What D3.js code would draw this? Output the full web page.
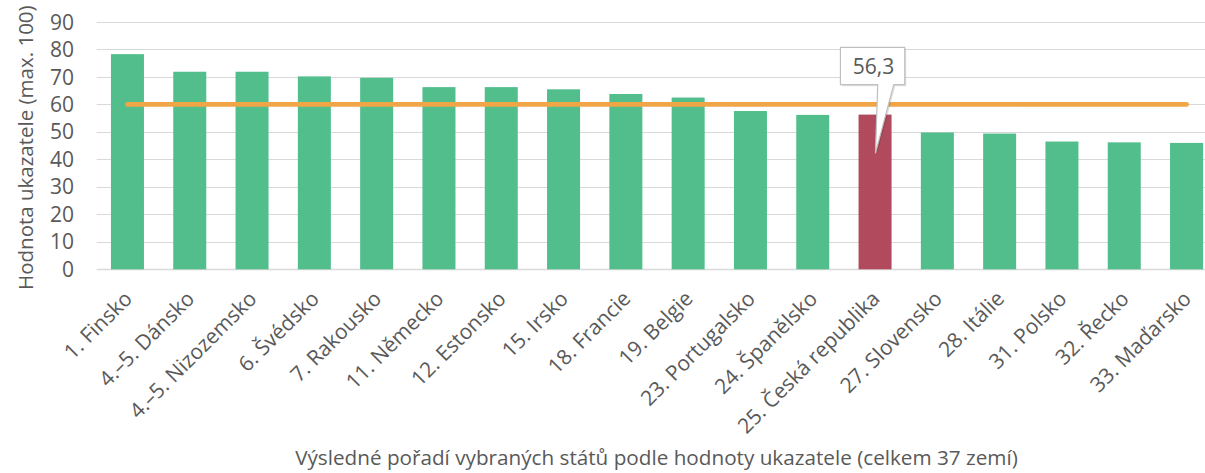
<!DOCTYPE html>
<html>
<head>
<meta charset="utf-8">
<script src="https://cdn.jsdelivr.net/npm/d3@7"></script>
<style>
    body { margin: 0; background: #fff; }
    text { font-family: "Open Sans", sans-serif; fill: #595959; }
</style>
</head>
<body>
<svg id="chart"></svg>
<script>
// data
const categories = ["1. Finsko", "4.–5. Dánsko", "4.–5. Nizozemsko", "6. Švédsko", "7. Rakousko",
    "11. Německo", "12. Estonsko", "15. Irsko", "18. Francie", "19. Belgie", "23. Portugalsko",
    "24. Španělsko", "25. Česká republika", "27. Slovensko", "28. Itálie", "31. Polsko",
    "32. Řecko", "33. Maďarsko"];
const values = [78.3, 71.9, 71.9, 70.2, 69.7, 66.3, 66.3, 65.5, 63.8, 62.5, 57.6, 56.2, 56.3,
    49.8, 49.4, 46.5, 46.2, 46.0];
const referenceValue = 60;
const highlighted = "25. Česká republika";
const calloutText = "56,3";
const yTicks = [0, 10, 20, 30, 40, 50, 60, 70, 80, 90];

const width = 1205, height = 473;

const svg = d3.select("#chart")
    .attr("width", width)
    .attr("height", height);

// scales (plot runs past the right edge, as in the original)
const x = d3.scaleBand()
    .domain(categories)
    .range([96.3, 1217.7])
    .paddingInner(0.47)
    .paddingOuter(0.235);
const y = d3.scaleLinear()
    .domain([0, 90])
    .range([269.3, 22]);

// gridlines
svg.append("g")
    .selectAll("line")
    .data(yTicks)
    .enter()
    .append("line")
    .attr("x1", 96.7)
    .attr("x2", width)
    .attr("y1", d => Math.round(y(d)) + 0.5)
    .attr("y2", d => Math.round(y(d)) + 0.5)
    .style("stroke", "#D9D9D9")
    .style("stroke-width", d => d === 0 ? 1.5 : 1.2);

// y tick labels
svg.append("g")
    .selectAll("text")
    .data(yTicks)
    .enter()
    .append("text")
    .attr("x", 74)
    .attr("y", d => y(d))
    .attr("dy", "0.36em")
    .attr("text-anchor", "end")
    .style("font-size", "21px")
    .text(d => d);

// bars
svg.append("g")
    .selectAll("rect")
    .data(categories)
    .enter()
    .append("rect")
    .attr("x", d => x(d))
    .attr("width", x.bandwidth())
    .attr("y", (d, i) => y(values[i]))
    .attr("height", (d, i) => y(0) - y(values[i]))
    .style("fill", d => d === highlighted ? "#B04A5C" : "#52BE8C");

// reference line
const refLine = d3.line()
    .x(d => x(d) + x.bandwidth() / 2)
    .y(() => y(referenceValue));

svg.append("path")
    .datum([categories[0], categories[categories.length - 1]])
    .attr("d", refLine)
    .style("fill", "none")
    .style("stroke", "#F0A646")
    .style("stroke-width", 4.8)
    .style("stroke-linecap", "round");

// callout for the highlighted bar
const cx = x(highlighted) + x.bandwidth() / 2;
const boxL = cx - 34.6, boxR = cx + 29.7;
const boxT = y(80.8), boxB = y(67.2);
const calloutPath = d3.path();
calloutPath.moveTo(boxL, boxT);
calloutPath.lineTo(boxR, boxT);
calloutPath.lineTo(boxR, boxB);
calloutPath.lineTo(cx + 18.7, boxB);
calloutPath.lineTo(cx + 0.4, y(42.2));
calloutPath.lineTo(cx + 2.7, boxB);
calloutPath.lineTo(boxL, boxB);
calloutPath.closePath();

svg.append("path")
    .attr("d", calloutPath.toString())
    .attr("transform", "translate(1.5,1.5)")
    .style("fill", "#000")
    .style("opacity", 0.12);
svg.append("path")
    .attr("d", calloutPath.toString())
    .style("fill", "#fff")
    .style("stroke", "#BFBFBF")
    .style("stroke-width", 1.2);
svg.append("text")
    .attr("x", (boxL + boxR) / 2 + 1)
    .attr("y", (boxT + boxB) / 2)
    .attr("dy", "0.36em")
    .attr("text-anchor", "middle")
    .style("font-size", "21px")
    .text(calloutText);

// x tick labels, rotated
svg.append("g")
    .selectAll("text")
    .data(categories)
    .enter()
    .append("text")
    .attr("transform", d => `translate(${x(d) + x.bandwidth() / 2 + 6}, 300) rotate(-45)`)
    .attr("text-anchor", "end")
    .style("font-size", "21px")
    .text(d => d);

// axis titles
svg.append("text")
    .attr("x", 656.5)
    .attr("y", 465)
    .attr("text-anchor", "middle")
    .style("font-size", "20.7px")
    .text("Výsledné pořadí vybraných států podle hodnoty ukazatele (celkem 37 zemí)");

svg.append("text")
    .attr("transform", `translate(33, ${(y(0) + y(90)) / 2 + 2}) rotate(-90)`)
    .attr("text-anchor", "middle")
    .style("font-size", "20.5px")
    .text("Hodnota ukazatele (max. 100)");
</script>
</body>
</html>
